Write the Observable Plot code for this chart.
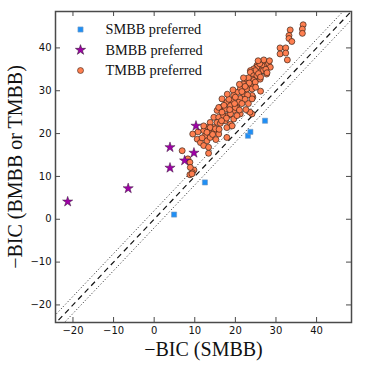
<!DOCTYPE html>
<html>
<head>
<meta charset="utf-8">
<script src="https://cdn.jsdelivr.net/npm/d3@7"></script>
<script src="https://cdn.jsdelivr.net/npm/@observablehq/plot@0.6"></script>
<style>
  html, body { margin: 0; padding: 0; background: #fff; }
  #chart { width: 366px; height: 366px; }
</style>
</head>
<body>
<div id="chart"></div>
<script>
// ---- data ----
const smbbPreferred = [
  [4.9, 1.1], [12.5, 8.6], [23.1, 19.5], [23.7, 20.4], [27.3, 23.0]
];
const bmbbPreferred = [
  [-21.3, 4.1], [-6.4, 7.2], [3.9, 12.0], [3.9, 16.8], [7.5, 13.7], [9.8, 15.5], [10.3, 21.8]
];
const tmbbPreferred = [
  [36.7, 45.4], [36.5, 44.4], [36.5, 43.4], [33.5, 44.2], [33.2, 42.9], [33.2, 42.2], [33.9, 41.5],
  [31.0, 40.0], [32.4, 40.0], [31.0, 38.6], [32.4, 38.8], [32.8, 37.2], [26.2, 29.9],
  [28.0, 36.6], [27.3, 36.6], [28.1, 36.3], [26.9, 35.9], [26.5, 35.9], [25.3, 35.9], [25.3, 35.5],
  [28.6, 35.5], [24.5, 35.1], [24.9, 34.7], [23.7, 34.7], [26.5, 34.7], [26.9, 34.7], [23.7, 34.3],
  [27.7, 33.9], [24.5, 33.5], [25.9, 33.5], [25.3, 33.5], [24.1, 32.7], [26.1, 32.7], [22.8, 32.4],
  [24.5, 32.4], [22.0, 31.6], [24.5, 31.6], [23.7, 31.2], [21.2, 30.4], [22.8, 30.4], [24.1, 30.4],
  [20.4, 29.6], [22.0, 29.3], [19.6, 28.9], [21.2, 28.2], [24.3, 28.5], [19.2, 27.7], [20.8, 27.3],
  [16.7, 28.1], [17.9, 27.3], [18.8, 26.5], [20.4, 26.1], [16.3, 26.1], [17.5, 25.7], [19.6, 25.4],
  [24.1, 24.6], [23.6, 25.0], [15.5, 25.4], [14.7, 23.8], [15.9, 23.8], [17.1, 24.2], [18.3, 24.3],
  [13.8, 22.6], [15.5, 22.6], [13.0, 21.4], [14.7, 21.4], [12.2, 20.7], [13.8, 20.7], [12.6, 19.5],
  [13.0, 18.3], [9.5, 19.9], [10.6, 18.7], [11.4, 17.9], [12.2, 17.2], [6.9, 16.0], [13.4, 15.4],
  [8.3, 14.1], [8.8, 13.3], [9.8, 11.5], [9.4, 10.9], [8.8, 10.4], [12.2, 21.8], [13.8, 21.4],
  [13.0, 20.3], [14.7, 20.3], [15.9, 19.9], [13.8, 19.1], [17.5, 23.0], [18.8, 22.2], [17.9, 21.4],
  [15.9, 26.1], [16.7, 25.0], [20.0, 26.1], [21.2, 24.6], [18.8, 24.6], [19.6, 23.4], [17.9, 19.1],
  [16.3, 22.4], [15.1, 21.1], [13.4, 16.8], [8.9, 12.1], [9.3, 10.6], [24.1, 28.9], [24.1, 28.1],
  [27.5, 35.0], [26.0, 36.3], [27.8, 34.2], [25.7, 34.0], [26.2, 33.2], [23.2, 33.0], [24.9, 32.0],
  [23.4, 31.8], [22.4, 31.0], [21.6, 29.8], [23.0, 29.0], [20.0, 28.5], [22.4, 28.0], [21.6, 27.0],
  [19.8, 27.0], [18.4, 28.0], [17.2, 26.6], [18.6, 25.6], [21.0, 25.5], [20.4, 24.2], [17.8, 23.6],
  [16.6, 23.0], [19.2, 21.8], [16.0, 21.0], [14.4, 19.8], [15.2, 18.6], [11.8, 19.0], [10.8, 20.4],
  [27.0, 37.2], [28.4, 37.0], [25.6, 37.0], [22.0, 33.0], [21.0, 31.5], [19.4, 30.2], [18.0, 29.2],
  [23.2, 27.0], [22.6, 25.6], [25.0, 30.8]
];
const legendLabels = ["SMBB preferred", "BMBB preferred", "TMBB preferred"];
const xTicks = [-20, -10, 0, 10, 20, 30, 40];
const yTicks = [-20, -10, 0, 10, 20, 30, 40];
const xDomain = [-24.3, 48.6];
const yDomain = [-24.1, 48.5];
const diagExtent = [-30, 60];
const diagOffsets = [2, -2];
const xLabel = "\u2212BIC (SMBB)";
const yLabel = "\u2212BIC (BMBB or TMBB)";

// ---- layout / styles ----
const W = 366, H = 366;
const mL = 55, mR = 15, mT = 11, mB = 44;
const fw = W - mL - mR, fh = H - mT - mB;
const serif = "Liberation Serif";
const sans = "DejaVu Sans";
const colSq = "#1f8ff5", colStar = "#a000a8", colCirc = "#ff7f50";
const frameCol = "#4a4a4a";
const tickLen = 5;

const legendStyles = [
  {symbol: "square", fill: colSq, stroke: "#7a9bbf", r: 2.9},
  {symbol: "star", fill: colStar, stroke: "#3a1a3a", r: 3.2},
  {symbol: "circle", fill: colCirc, stroke: "#3a2418", r: 3}
];

const marks = [
  // diagonal reference lines
  Plot.link(diagOffsets, {x1: () => diagExtent[0], y1: d => diagExtent[0] + d,
    x2: () => diagExtent[1], y2: d => diagExtent[1] + d,
    stroke: "#222", strokeWidth: 1, strokeDasharray: "1,2.2", clip: true}),
  Plot.link([0], {x1: () => diagExtent[0], y1: () => diagExtent[0],
    x2: () => diagExtent[1], y2: () => diagExtent[1],
    stroke: "#111", strokeWidth: 1.2, strokeDasharray: "5.5,4", clip: true}),
  // points
  Plot.dot(tmbbPreferred, {x: d => d[0], y: d => d[1], symbol: "circle", r: 3,
    fill: colCirc, stroke: "#3a2418", strokeWidth: 0.7}),
  Plot.dot(smbbPreferred, {x: d => d[0], y: d => d[1], symbol: "square", r: 2.9,
    fill: colSq, stroke: "#7a9bbf", strokeWidth: 0.6}),
  Plot.dot(bmbbPreferred, {x: d => d[0], y: d => d[1], symbol: "star", r: 3.2,
    fill: colStar, stroke: "#3a1a3a", strokeWidth: 0.5}),
  // frame and inward ticks
  Plot.frame({stroke: frameCol, strokeWidth: 1.5}),
  Plot.tickX(xTicks, {x: d => d, insetTop: fh - tickLen, stroke: frameCol}),
  Plot.tickX(xTicks, {x: d => d, insetBottom: fh - tickLen, stroke: frameCol}),
  Plot.tickY(yTicks, {y: d => d, insetLeft: fw - tickLen, stroke: frameCol}),
  Plot.tickY(yTicks, {y: d => d, insetRight: fw - tickLen, stroke: frameCol}),
  // tick labels
  Plot.axisX(xTicks, {tickSize: 0, tickPadding: 4, fontSize: 10, fontFamily: sans, fill: "#111", label: null}),
  Plot.axisY(yTicks, {tickSize: 0, tickPadding: 4, fontSize: 10, fontFamily: sans, fill: "#111", label: null}),
  // axis titles
  Plot.text([xLabel], {text: d => d, frameAnchor: "bottom", dy: 27, fontSize: 20,
    fontFamily: serif, fill: "#111", lineAnchor: "middle"}),
  Plot.text([yLabel], {text: d => d, frameAnchor: "left", dx: -40, rotate: -90, fontSize: 20,
    fontFamily: serif, fill: "#111", lineAnchor: "middle", textAnchor: "middle"})
];

// legend (inside the frame, top-left)
legendLabels.forEach((lab, i) => {
  const s = legendStyles[i];
  marks.push(Plot.dot([lab], {frameAnchor: "top-left", dx: 25, dy: 18 + i * 20.5,
    symbol: s.symbol, fill: s.fill, stroke: s.stroke, r: s.r, strokeWidth: 0.6}));
  marks.push(Plot.text([lab], {text: d => d, frameAnchor: "top-left", dx: 50, dy: 18 + i * 20.5,
    textAnchor: "start", lineAnchor: "middle", fontSize: 14.3, fontFamily: serif, fill: "#111"}));
});

const chart = Plot.plot({
  width: W, height: H,
  marginLeft: mL, marginRight: mR, marginTop: mT, marginBottom: mB,
  x: {domain: xDomain},
  y: {domain: yDomain},
  style: {background: "#fff", overflow: "visible"},
  marks
});
document.getElementById("chart").appendChild(chart);
</script>
</body>
</html>
